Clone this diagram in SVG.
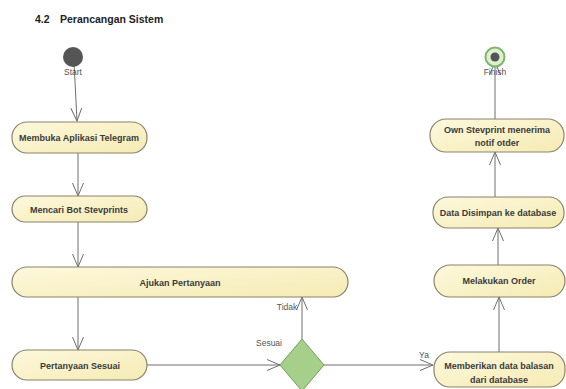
<svg xmlns="http://www.w3.org/2000/svg" width="566" height="389" viewBox="0 0 566 389">
<defs>
<linearGradient id="g" x1="0" y1="0" x2="1" y2="1">
<stop offset="0" stop-color="#fcf8dc"/>
<stop offset="1" stop-color="#f6ebb4"/>
</linearGradient>
<marker id="a" viewBox="0 0 14 14" refX="13" refY="7" markerWidth="14" markerHeight="14" markerUnits="userSpaceOnUse" orient="auto">
<path d="M0,1.5 L13,7 L0,12.5" fill="none" stroke="#6f6f6f" stroke-width="1"/>
</marker>
</defs>
<style>
.n{fill:url(#g);stroke:#8a836a;stroke-width:1.2}
.t{font-family:"Liberation Sans",Arial,sans-serif;font-weight:bold;font-size:9px;fill:#3a3a3a;text-anchor:middle}
.l{font-family:"Liberation Sans",Arial,sans-serif;font-size:8.5px;fill:#555;text-anchor:middle}
.c line,.c path{stroke:#6f6f6f;stroke-width:1;fill:none;marker-end:url(#a)}
</style>
<rect width="566" height="389" fill="#fff"/>
<text x="35" y="23" font-family="'Liberation Sans',Arial,sans-serif" font-weight="bold" font-size="10.5" fill="#222">4.2</text>
<text x="60" y="23" font-family="'Liberation Sans',Arial,sans-serif" font-weight="bold" font-size="10.5" fill="#222">Perancangan Sistem</text>

<g class="c">
<line x1="74" y1="62" x2="77" y2="121"/>
<line x1="78" y1="153" x2="78" y2="196"/>
<line x1="78" y1="222" x2="78" y2="267"/>
<line x1="78" y1="297" x2="78" y2="350"/>
<line x1="147" y1="365" x2="280" y2="365"/>
<line x1="302" y1="339" x2="302" y2="297"/>
<line x1="324" y1="365" x2="433" y2="365"/>
<line x1="499" y1="352" x2="499" y2="297"/>
<line x1="498" y1="265" x2="498" y2="228"/>
<line x1="495" y1="197" x2="495" y2="152"/>
<line x1="495" y1="119" x2="495" y2="62"/>
</g>

<g id="start">
<circle cx="73" cy="57" r="10" fill="#555"/>
<text class="l" x="73" y="75">Start</text>
</g>
<g id="finish">
<circle cx="495" cy="57" r="9.5" fill="#dff0d0" stroke="#7fb56a" stroke-width="2"/>
<circle cx="495" cy="57" r="4.5" fill="#555"/>
<text class="l" x="495" y="75">Finish</text>
</g>

<g id="n1"><rect class="n" x="12" y="122" width="135" height="31" rx="15"/><text class="t" x="79" y="140.5">Membuka Aplikasi Telegram</text></g>
<g id="n2"><rect class="n" x="12" y="196" width="135" height="26" rx="13"/><text class="t" x="79" y="212.5">Mencari Bot Stevprints</text></g>
<g id="n3"><rect class="n" x="12" y="267" width="336" height="30" rx="15"/><text class="t" x="180" y="285.5">Ajukan Pertanyaan</text></g>
<g id="n4"><rect class="n" x="12" y="350" width="135" height="30" rx="15"/><text class="t" x="80" y="368.5">Pertanyaan Sesuai</text></g>
<g id="d1"><polygon points="302,339 324,365 302,391 280,365" fill="#a6d08a" stroke="#6fa25a" stroke-width="1"/>
<text class="l" x="269" y="346">Sesuai</text></g>
<text class="l" x="287" y="310">Tidak</text>
<text class="l" x="424" y="358">Ya</text>
<g id="n5"><rect class="n" x="434" y="352" width="131" height="35" rx="16"/><text class="t" x="499" y="369">Memberikan data balasan</text><text class="t" x="499" y="383">dari database</text></g>
<g id="n6"><rect class="n" x="434" y="265" width="131" height="32" rx="16"/><text class="t" x="499" y="284">Melakukan Order</text></g>
<g id="n7"><rect class="n" x="433" y="197" width="131" height="31" rx="15"/><text class="t" x="498" y="215.5">Data Disimpan ke database</text></g>
<g id="n8"><rect class="n" x="430" y="119" width="134" height="33" rx="16"/><text class="t" x="497" y="133">Own Stevprint menerima</text><text class="t" x="497" y="146">notif otder</text></g>
</svg>
